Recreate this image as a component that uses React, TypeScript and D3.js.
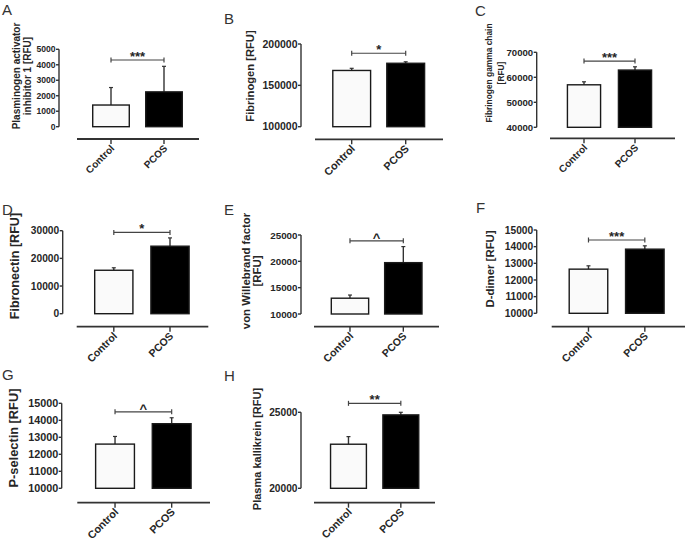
import * as React from "react";
import * as d3 from "d3";

// --- data ---
const categories = ["Control", "PCOS"];
const panelIds = ["A", "B", "C", "D", "E", "F", "G", "H"];
const yTitles: string[][] = [
  ["Plasminogen activator", "inhibitor 1 [RFU]"],
  ["Fibrinogen [RFU]"],
  ["Fibrinogen gamma chain", "[RFU]"],
  ["Fibronectin [RFU]"],
  ["von Willebrand factor", "[RFU]"],
  ["D-dimer [RFU]"],
  ["P-selectin [RFU]"],
  ["Plasma kallikrein [RFU]"],
];
const controlMeans = [1400, 168000, 57000, 15700, 13000, 12650, 12600, 22900];
const controlSem = [1130, 2600, 1200, 900, 600, 200, 450, 500];
const pcosMeans = [2250, 176700, 62900, 24400, 19750, 13850, 13800, 24830];
const pcosSem = [1650, 1800, 1300, 3000, 3050, 200, 350, 170];
const yDomains: [number, number][] = [
  [0, 5000],
  [100000, 200000],
  [40000, 70000],
  [0, 30000],
  [10000, 25000],
  [10000, 15000],
  [10000, 15000],
  [20000, 25000],
];
const yTickValues: number[][] = [
  [0, 1000, 2000, 3000, 4000, 5000],
  [100000, 150000, 200000],
  [40000, 50000, 60000, 70000],
  [0, 10000, 20000, 30000],
  [10000, 15000, 20000, 25000],
  [10000, 11000, 12000, 13000, 14000, 15000],
  [10000, 11000, 12000, 13000, 14000, 15000],
  [20000, 25000],
];
const sigLabels = ["***", "*", "***", "*", "^", "***", "^", "**"];
const sigLevels = [4310, 188800, 66500, 29390, 23900, 14400, 14500, 25590];

// --- layout (pixels) ---
type Layout = {
  axisX: number;
  yRange: [number, number];
  band: [number, number];
  pad: number;
  line: [number, number];
  lineY: number;
  tickFs: number;
  titleFs: number;
  titleX: number[];
  titleY: number;
  catFs: number;
  letter: [number, number];
};

const layouts: Layout[] = [
  { axisX: 59, yRange: [126.7, 49.3], band: [84.5, 190.5], pad: 0.31, line: [77, 199], lineY: 139, tickFs: 8.6, titleFs: 10, titleX: [20, 31], titleY: 76, catFs: 10, letter: [2, 15] },
  { axisX: 301, yRange: [126.7, 44], band: [324.7, 432.7], pad: 0.3, line: [315, 443], lineY: 139.3, tickFs: 10.5, titleFs: 11.2, titleX: [254], titleY: 76, catFs: 10.8, letter: [224, 24] },
  { axisX: 536.7, yRange: [127.3, 52.3], band: [558.5, 660.5], pad: 0.35, line: [550, 675], lineY: 138.3, tickFs: 9.6, titleFs: 8.4, titleX: [492, 504], titleY: 73, catFs: 10, letter: [475, 16] },
  { axisX: 62.7, yRange: [313.7, 230.7], band: [85.7, 198.1], pad: 0.32, line: [76.7, 208.3], lineY: 326.7, tickFs: 10.2, titleFs: 12.6, titleX: [18.5], titleY: 266, catFs: 10.5, letter: [2, 215] },
  { axisX: 301, yRange: [314, 235], band: [323.3, 430], pad: 0.3, line: [314, 439], lineY: 326.7, tickFs: 9.8, titleFs: 11.4, titleX: [250, 261], titleY: 271, catFs: 10.5, letter: [224, 215] },
  { axisX: 536.7, yRange: [313.3, 230], band: [560.3, 673], pad: 0.316, line: [551.7, 685], lineY: 326.7, tickFs: 10.2, titleFs: 11.4, titleX: [494], titleY: 269, catFs: 10.5, letter: [476, 213] },
  { axisX: 61.7, yRange: [488.3, 403.3], band: [86.7, 200], pad: 0.315, line: [77.3, 210], lineY: 502.7, tickFs: 10.8, titleFs: 12.8, titleX: [17.5], titleY: 438, catFs: 10.8, letter: [2, 380] },
  { axisX: 301, yRange: [488.3, 412.3], band: [322.3, 427], pad: 0.315, line: [314, 435], lineY: 502.7, tickFs: 10.2, titleFs: 11, titleX: [261], titleY: 449, catFs: 10.5, letter: [224, 381] },
];

const FONT = "Arial, 'Liberation Sans', sans-serif";
const INK = "#262626";
const LINE = "#333";

function Panel({ i }: { i: number }) {
  const L = layouts[i];
  const y = d3.scaleLinear().domain(yDomains[i]).range(L.yRange);
  const x = d3
    .scaleBand<string>()
    .domain(categories)
    .range(L.band)
    .paddingInner(L.pad)
    .paddingOuter(L.pad / 2);
  const bw = x.bandwidth();
  const means = [controlMeans[i], pcosMeans[i]];
  const sems = [controlSem[i], pcosSem[i]];
  const ticks = yTickValues[i];
  const cx = (c: string) => (x(c) ?? 0) + bw / 2;
  const sigY = y(sigLevels[i]);
  const x1 = cx(categories[0]);
  const x2 = cx(categories[1]);

  return (
    <g>
      <text x={L.letter[0]} y={L.letter[1]} fontSize={15} fill="#333" fontFamily={FONT}>
        {panelIds[i]}
      </text>

      {yTitles[i].map((t, k) => (
        <text
          key={k}
          transform={`translate(${L.titleX[k]},${L.titleY}) rotate(-90)`}
          textAnchor="middle"
          fontSize={L.titleFs}
          fontWeight="bold"
          fill={INK}
          fontFamily={FONT}
        >
          {t}
        </text>
      ))}

      {/* y axis */}
      <line x1={L.axisX} x2={L.axisX} y1={y(ticks[0])} y2={y(ticks[ticks.length - 1])} stroke={LINE} strokeWidth={1.4} />
      {ticks.map((t) => (
        <g key={t} transform={`translate(0,${y(t)})`}>
          <line x1={L.axisX - 3} x2={L.axisX} stroke={LINE} strokeWidth={1.4} />
          <text
            x={L.axisX - 3.5}
            dy="0.36em"
            textAnchor="end"
            fontSize={L.tickFs}
            fontWeight="bold"
            fill={INK}
            fontFamily={FONT}
          >
            {t}
          </text>
        </g>
      ))}

      {/* bars */}
      {categories.map((c, k) => (
        <g key={c}>
          <line
            x1={cx(c)}
            x2={cx(c)}
            y1={y(means[k])}
            y2={y(means[k] + sems[k])}
            stroke={LINE}
            strokeWidth={1.4}
          />
          <line
            x1={cx(c) - 2}
            x2={cx(c) + 2}
            y1={y(means[k] + sems[k])}
            y2={y(means[k] + sems[k])}
            stroke={LINE}
            strokeWidth={1.2}
          />
          <rect
            x={x(c)}
            y={y(means[k])}
            width={bw}
            height={y(yDomains[i][0]) - y(means[k])}
            fill={k === 0 ? "#fafafa" : "#000"}
            stroke="#1a1a1a"
            strokeWidth={1.4}
          />
        </g>
      ))}

      {/* x axis */}
      <line x1={L.line[0]} x2={L.line[1]} y1={L.lineY} y2={L.lineY} stroke={LINE} strokeWidth={1.8} />
      {categories.map((c) => (
        <g key={c}>
          <line x1={cx(c)} x2={cx(c)} y1={L.lineY} y2={L.lineY + 5} stroke={LINE} strokeWidth={1.4} />
          <text
            transform={`translate(${cx(c) + 4},${L.lineY + 10}) rotate(-45)`}
            textAnchor="end"
            fontSize={L.catFs}
            fontWeight="bold"
            fill={INK}
            fontFamily={FONT}
          >
            {c}
          </text>
        </g>
      ))}

      {/* significance bracket */}
      <line x1={x1} x2={x2} y1={sigY} y2={sigY} stroke="#444" strokeWidth={1.2} />
      <line x1={x1} x2={x1} y1={sigY - 2.5} y2={sigY + 2.5} stroke="#444" strokeWidth={1.2} />
      <line x1={x2} x2={x2} y1={sigY - 2.5} y2={sigY + 2.5} stroke="#444" strokeWidth={1.2} />
      <text
        x={(x1 + x2) / 2}
        y={sigY + (sigLabels[i] === "^" ? 1 : 1)}
        textAnchor="middle"
        fontSize={13}
        fontWeight="bold"
        fill={INK}
        fontFamily={FONT}
      >
        {sigLabels[i]}
      </text>
    </g>
  );
}

export default function App() {
  return (
    <div style={{ position: "absolute", left: 0, top: 0 }}>
      <svg width={685} height={543} style={{ display: "block", background: "#fff" }}>
        {panelIds.map((_, i) => (
          <Panel key={i} i={i} />
        ))}
      </svg>
    </div>
  );
}
